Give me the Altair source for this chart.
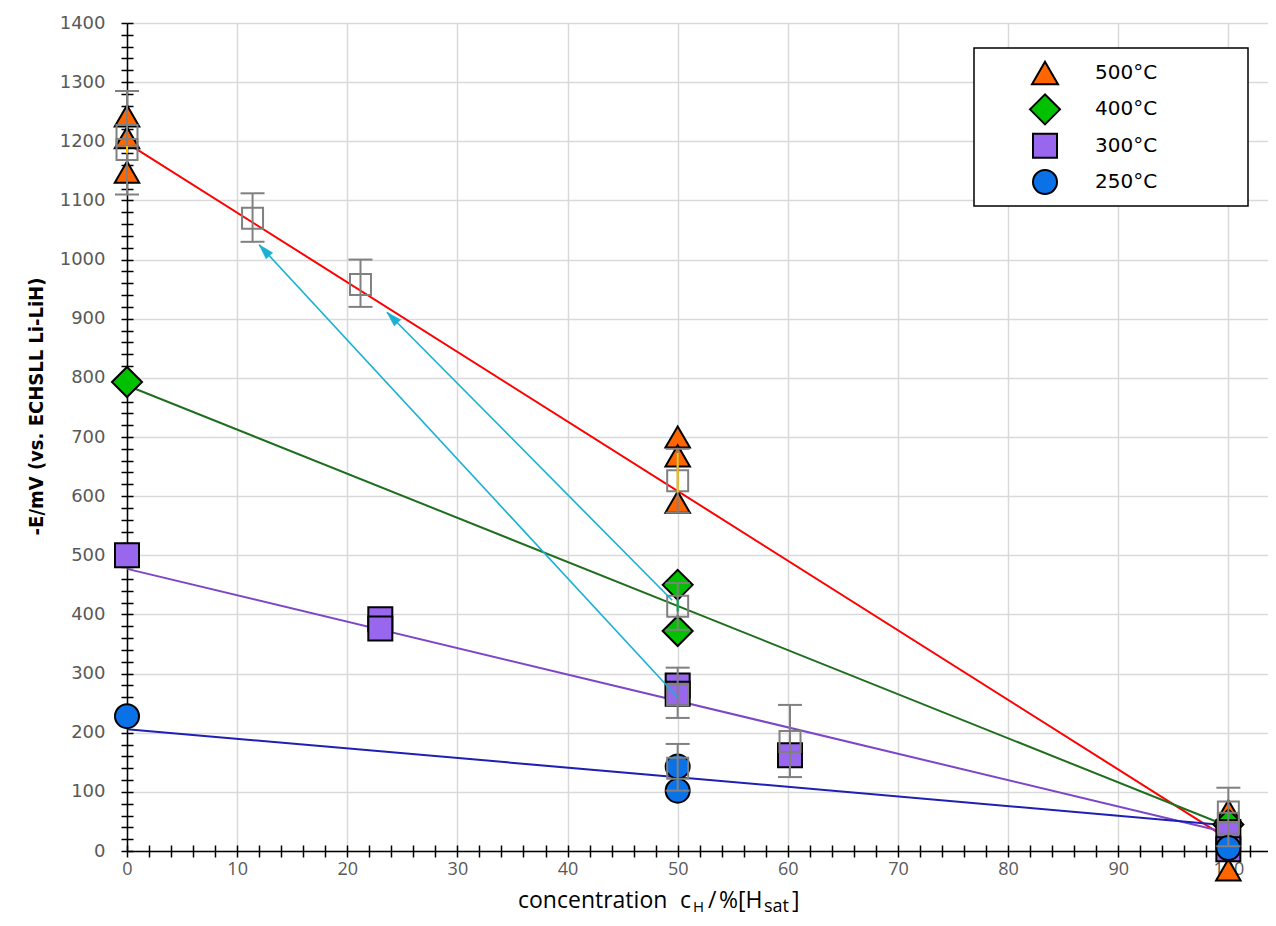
import math
import altair as alt
import pandas as pd

# ---------------- data ----------------
series_names = ["500°C", "400°C", "300°C", "250°C"]
fill_colors = ["#ff6600", "#00c000", "#9966ee", "#0a72e6"]
shapes = ["triangle-up", "diamond", "square", "circle"]
sizes = [600, 900, 576, 576]
legend_sizes = [676, 900, 576, 576]

x500 = [0, 0, 0, 50, 50, 50, 100, 100]
y500 = [1243, 1206, 1148, 700, 668, 590, 68, -32]
x400 = [0, 50, 50, 100]
y400 = [793, 450, 372, 45]
x300 = [0, 23, 23, 50, 50, 60.2, 100, 100]
y300 = [500, 392, 376, 280, 266, 162, 32, 3]
x250 = [0, 50, 50, 100]
y250 = [228, 143, 102, 5]

fit_x = [0, 99]
fit500 = [1197, 32]
fit400 = [787, 49]
fit300 = [477, 35]
fit250 = [206, 45]
fit_colors = ["#ff0000", "#1e6e1e", "#7d46c8", "#1f1fb4"]

mean_x = [0, 0, 11.4, 21.2, 50, 50, 50, 50, 60.2, 100, 100]
mean_y = [1210, 1186, 1070, 958, 626, 414, 264, 140, 185, 66, 47]
err_x = [0, 11.4, 21.2, 50, 50, 50, 50, 60.2, 100]
err_lo = [1110, 1030, 920, 572, 374, 225, 102, 125, 8]
err_hi = [1285, 1112, 1000, 680, 453, 310, 181, 247, 107]

spread_x = [0, 50, 50]
spread_lo = [1180, 606, 405]
spread_hi = [1192, 673, 425]
spread_col = ["#ffc000", "#ffc000", "#00b050"]

arrow_x0 = [50, 49.5]
arrow_y0 = [260, 424]
arrow_x1 = [12.0, 23.6]
arrow_y1 = [1025, 911]

x_ticks = list(range(0, 103, 2))
y_ticks = list(range(0, 1401, 20))

y_title = "-E/mV  (vs. ECHSLL Li-LiH)"

# ---------------- layout ----------------
W, H = 1141, 828
XMAX, YMAX = 103.6, 1400
GRID = "#d9d9d9"
LABEL = "#595959"

xs = alt.Scale(domain=[0, XMAX], nice=False, zero=False)
ys = alt.Scale(domain=[0, YMAX], nice=False, zero=False)
fill_scale = alt.Scale(domain=series_names, range=fill_colors)
shape_scale = alt.Scale(domain=series_names, range=shapes)

rows = []
for name, sz, xv, yv in [("500°C", sizes[0], x500, y500), ("400°C", sizes[1], x400, y400),
                         ("300°C", sizes[2], x300, y300), ("250°C", sizes[3], x250, y250)]:
    for a, b in zip(xv, yv):
        rows.append({"series": name, "x": a, "y": b, "sz": sz})
pts = pd.DataFrame(rows)
pts["idx"] = range(len(pts))

fits = []
for name, fy in [("500°C", fit500), ("400°C", fit400), ("300°C", fit300), ("250°C", fit250)]:
    for a, b in zip(fit_x, fy):
        fits.append({"series": name, "x": a, "y": b})
fits = pd.DataFrame(fits)

means = pd.DataFrame({"x": mean_x, "y": mean_y})
errs = pd.DataFrame({"x": err_x, "lo": err_lo, "hi": err_hi})
caps = pd.DataFrame({"x": err_x + err_x, "y": err_lo + err_hi})
spreads = pd.DataFrame({"x": spread_x, "lo": spread_lo, "hi": spread_hi, "c": spread_col})
legend_df = pd.DataFrame({"series": series_names, "sz": legend_sizes})

px_x = W / XMAX
px_y = H / YMAX
arrows = pd.DataFrame({"x0": arrow_x0, "y0": arrow_y0, "x1": arrow_x1, "y1": arrow_y1})
arrows["angle"] = [
    math.degrees(math.atan2((b - a) * px_x, (d - c) * px_y)) % 360
    for a, b, c, d in zip(arrow_x0, arrow_x1, arrow_y0, arrow_y1)
]

main_x_axis = alt.Axis(
    orient="bottom", values=x_ticks, format="d",
    labelExpr="datum.value % 10 === 0 ? datum.label : ''",
    grid=True, gridColor=GRID, gridWidth=1.5,
    gridOpacity={"condition": {"test": "datum.value % 10 === 0", "value": 1}, "value": 0},
    tickSize=6, tickColor="black", tickWidth=1.5,
    domainColor="black", domainWidth=1.5,
    labelFont="Open Sans", labelFontSize=18, labelColor=LABEL, labelPadding=3,
    labelOverlap=False, labelFlush=False, title=None,
)
main_y_axis = alt.Axis(
    orient="left", values=y_ticks, format="d",
    labelExpr="datum.value % 100 === 0 ? datum.label : ''",
    grid=True, gridColor=GRID, gridWidth=1.5,
    gridOpacity={"condition": {"test": "datum.value % 100 === 0", "value": 1}, "value": 0},
    tickSize=6, tickColor="black", tickWidth=1.5,
    domainColor="black", domainWidth=1.5,
    labelFont="DejaVu Sans", labelFontSize=18, labelColor=LABEL, labelPadding=16,
    labelOverlap=False, labelFlush=False,
    title=y_title, titleFont="DejaVu Sans Condensed", titleFontWeight="bold",
    titleFontSize=20, titleColor="black", titleAngle=270,
    titleX=-91, titleY=383, titleAlign="center", titleBaseline="middle",
)
inner_x_axis = alt.Axis(
    orient="top", offset=-H, values=x_ticks, labels=False, grid=False, domain=False,
    tickSize=6, tickColor="black", tickWidth=1.5, title=None,
)
inner_y_axis = alt.Axis(
    orient="right", offset=-W, values=y_ticks, labels=False, grid=False, domain=False,
    tickSize=6, tickColor="black", tickWidth=1.5, title=None,
)

fit_layer = alt.Chart(fits).mark_line(strokeWidth=2).encode(
    x=alt.X("x:Q", scale=xs, axis=inner_x_axis),
    y=alt.Y("y:Q", scale=ys, axis=inner_y_axis),
    stroke=alt.Stroke("series:N", scale=alt.Scale(domain=series_names, range=fit_colors), legend=None),
    detail="series:N",
)

point_layer = alt.Chart(pts).mark_point(filled=True, stroke="black", strokeWidth=2, opacity=1).encode(
    x=alt.X("x:Q", scale=xs, axis=main_x_axis),
    y=alt.Y("y:Q", scale=ys, axis=main_y_axis),
    fill=alt.Fill("series:N", scale=fill_scale, legend=None),
    shape=alt.Shape("series:N", scale=shape_scale, legend=None),
    size=alt.Size("sz:Q", scale=None, legend=None),
    order=alt.Order("idx:Q"),
)

err_layer = alt.Chart(errs).mark_rule(stroke="#808080", strokeWidth=2).encode(
    x=alt.X("x:Q", scale=xs, axis=None),
    y=alt.Y("lo:Q", scale=ys, axis=None),
    y2="hi:Q",
)
cap_layer = alt.Chart(caps).mark_tick(orient="horizontal", size=24, thickness=2, color="#808080", opacity=1).encode(
    x=alt.X("x:Q", scale=xs, axis=None),
    y=alt.Y("y:Q", scale=ys, axis=None),
)
mean_layer = alt.Chart(means).mark_point(shape="square", filled=False, stroke="#808080",
                                         strokeWidth=2, size=440, opacity=1).encode(
    x=alt.X("x:Q", scale=xs, axis=None),
    y=alt.Y("y:Q", scale=ys, axis=None),
)
spread_layer = alt.Chart(spreads).mark_rule(strokeWidth=2).encode(
    x=alt.X("x:Q", scale=xs, axis=None),
    y=alt.Y("lo:Q", scale=ys, axis=None),
    y2="hi:Q",
    color=alt.Color("c:N", scale=None, legend=None),
)
CYAN = "#1ab0d4"
arrow_line = alt.Chart(arrows).mark_rule(stroke=CYAN, strokeWidth=1.6).encode(
    x=alt.X("x0:Q", scale=xs, axis=None),
    y=alt.Y("y0:Q", scale=ys, axis=None),
    x2="x1:Q", y2="y1:Q",
)
arrow_head = alt.Chart(arrows).mark_point(shape="M0,0L0.6,2L-0.6,2Z", filled=True, fill=CYAN,
                                          stroke=CYAN, strokeWidth=0.5, size=225, opacity=1).encode(
    x=alt.X("x1:Q", scale=xs, axis=None),
    y=alt.Y("y1:Q", scale=ys, axis=None),
    angle=alt.Angle("angle:Q", scale=None),
)

# ---- legend (box + symbols + labels), rows placed by a point scale ----
leg_y = alt.Y("series:N", scale=alt.Scale(type="point", domain=series_names, range=[50, 159], padding=0),
              axis=None, sort=series_names)
legend_box = alt.Chart(pd.DataFrame({"k": [0]})).mark_rect(
    fill="white", stroke="black", strokeWidth=1.5
).encode(x=alt.value(847), x2=alt.value(1121), y=alt.value(25), y2=alt.value(183))
legend_sym = alt.Chart(legend_df).mark_point(filled=True, stroke="black", strokeWidth=2, opacity=1).encode(
    x=alt.value(918), y=leg_y,
    fill=alt.Fill("series:N", scale=fill_scale, legend=None),
    shape=alt.Shape("series:N", scale=shape_scale, legend=None),
    size=alt.Size("sz:Q", scale=None, legend=None),
)
legend_txt = alt.Chart(legend_df).mark_text(
    align="left", baseline="middle", font="DejaVu Sans", fontSize=20, color="black"
).encode(x=alt.value(968), y=leg_y, text="series:N")

# x-axis title with subscripts (text pieces)
BASE_Y = 885
def piece(txt, xpos, size, dy=0):
    return alt.Chart(pd.DataFrame({"t": [txt]})).mark_text(
        align="left", baseline="alphabetic", font="Open Sans", fontSize=size, color="black"
    ).encode(x=alt.value(xpos), y=alt.value(BASE_Y + dy), text="t:N")

title_parts = [
    piece("concentration", 391, 23),
    piece("c", 553, 23),
    piece("H", 566, 15, 4),
    piece("/", 581, 23),
    piece("%[H", 592, 23),
    piece("sat", 637, 18, 4),
    piece("]", 665, 23),
]

chart = alt.layer(
    fit_layer, point_layer, err_layer, cap_layer, mean_layer, spread_layer,
    arrow_line, arrow_head, legend_box, legend_sym, legend_txt, *title_parts
).resolve_scale(y="independent").properties(
    width=W, height=H,
    autosize=alt.AutoSizeParams(type="none"),
    padding={"left": 119, "top": 15, "right": 0, "bottom": 66},
    background="white",
).configure_view(stroke=None)

chart.save("out.html", embed_options={"renderer": "svg", "actions": False})
